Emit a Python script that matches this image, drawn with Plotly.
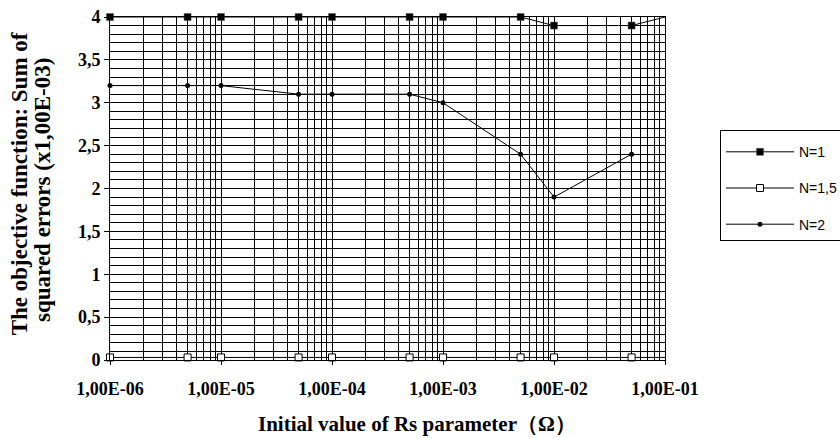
import plotly.graph_objects as go

# ---- data ----
x_vals = [1e-6, 5e-6, 1e-5, 5e-5, 1e-4, 5e-4, 1e-3, 5e-3, 1e-2, 5e-2, 1e-1]
n1_vals = [4, 4, 4, 4, 4, 4, 4, 4, 3.9, 3.9, 4]
n15_vals = [0.03, 0.03, 0.03, 0.03, 0.03, 0.03, 0.03, 0.03, 0.03, 0.03, 0.03]
x_n2 = [1e-6, 5e-6, 1e-5, 5e-5, 1e-4, 5e-4, 1e-3, 5e-3, 1e-2, 5e-2]
n2_vals = [3.2, 3.2, 3.2, 3.1, 3.1, 3.1, 3.0, 2.4, 1.9, 2.4]

series_names = ["N=1", "N=1,5", "N=2"]
x_tickvals = [1e-6, 1e-5, 1e-4, 1e-3, 1e-2, 1e-1]
x_ticktext = ["1,00E-06", "1,00E-05", "1,00E-04", "1,00E-03", "1,00E-02", "1,00E-01"]
y_tickvals = [0, 0.5, 1, 1.5, 2, 2.5, 3, 3.5, 4]
y_ticktext = ["0", "0,5", "1", "1,5", "2", "2,5", "3", "3,5", "4"]

x_title = "Initial value of Rs parameter（Ω）"
y_title_lines = ["The objective function: Sum of", "squared errors (x1,00E-03)"]

serif = "Liberation Serif"
sans = "Liberation Sans"

fig = go.Figure()
fig.add_trace(go.Scatter(
    x=x_vals, y=n1_vals, name=series_names[0], mode="lines+markers",
    line=dict(color="black", width=1),
    marker=dict(symbol="square", size=7, color="black", line=dict(color="#555", width=0.5)),
    cliponaxis=False, legendgroup="a"))
fig.add_trace(go.Scatter(
    x=x_vals, y=n15_vals, name=series_names[1], mode="lines+markers",
    line=dict(color="black", width=1),
    marker=dict(symbol="square", size=7, color="white", line=dict(color="black", width=1)),
    cliponaxis=False, legendgroup="b"))
fig.add_trace(go.Scatter(
    x=x_n2, y=n2_vals, name=series_names[2], mode="lines+markers",
    line=dict(color="black", width=1),
    marker=dict(symbol="circle", size=5, color="black"),
    cliponaxis=False, legendgroup="c"))

fig.update_xaxes(
    type="log", range=[-6, -1], automargin=False,
    tickmode="array", tickvals=x_tickvals, ticktext=x_ticktext,
    ticks="outside", ticklen=4, tickcolor="black",
    ticklabelstandoff=8,
    tickfont=dict(family=serif, size=18, color="black", weight="bold"),
    showline=True, linecolor="black", linewidth=1, mirror=True,
    showgrid=True, gridcolor="black", gridwidth=1,
    minor=dict(dtick="D1", showgrid=True, gridcolor="black", gridwidth=1, ticks=""),
    zeroline=False,
)
fig.update_yaxes(
    range=[0, 4], automargin=False,
    tickmode="array", tickvals=y_tickvals, ticktext=y_ticktext,
    ticks="outside", ticklen=5, tickcolor="black",
    tickfont=dict(family=serif, size=18, color="black", weight="bold"),
    showline=True, linecolor="black", linewidth=1, mirror=True,
    showgrid=True, gridcolor="black", gridwidth=1,
    minor=dict(dtick=0.1, showgrid=True, gridcolor="black", gridwidth=1, ticks=""),
    zeroline=False,
)

# y-axis title (two lines, rotated)
for txt, xp, yp in zip(y_title_lines, [-0.164, -0.123], [0.515, 0.495]):
    fig.add_annotation(
        text=txt, xref="paper", yref="paper", x=xp, y=yp,
        xanchor="center", yanchor="middle", textangle=-90, showarrow=False,
        font=dict(family=serif, size=23, color="black", weight="bold"),
    )

fig.add_annotation(
    text=x_title, xref="paper", yref="paper", x=0.553, y=-0.146,
    xanchor="center", yanchor="top", showarrow=False,
    font=dict(family=serif, size=21, color="black", weight="bold"),
)

fig.update_layout(
    width=840, height=438, autosize=False,
    margin=dict(l=110, r=175, t=17, b=78),
    paper_bgcolor="white", plot_bgcolor="white",
    showlegend=True,
    legend=dict(
        xref="container", yref="container",
        x=720 / 840, y=1 - 130 / 438, xanchor="left", yanchor="top",
        bordercolor="black", borderwidth=1, bgcolor="white",
        font=dict(family=sans, size=14, color="black"),
        title=dict(text=" ", font=dict(family=sans, size=4)),
        traceorder="grouped", tracegroupgap=15, itemwidth=68,
    ),
)

fig.write_html(
    "out.html",
    config={"displayModeBar": False},
    post_script="document.body.style.margin='0px';document.body.style.padding='0px';"
                "document.documentElement.style.overflow='hidden';",
)
